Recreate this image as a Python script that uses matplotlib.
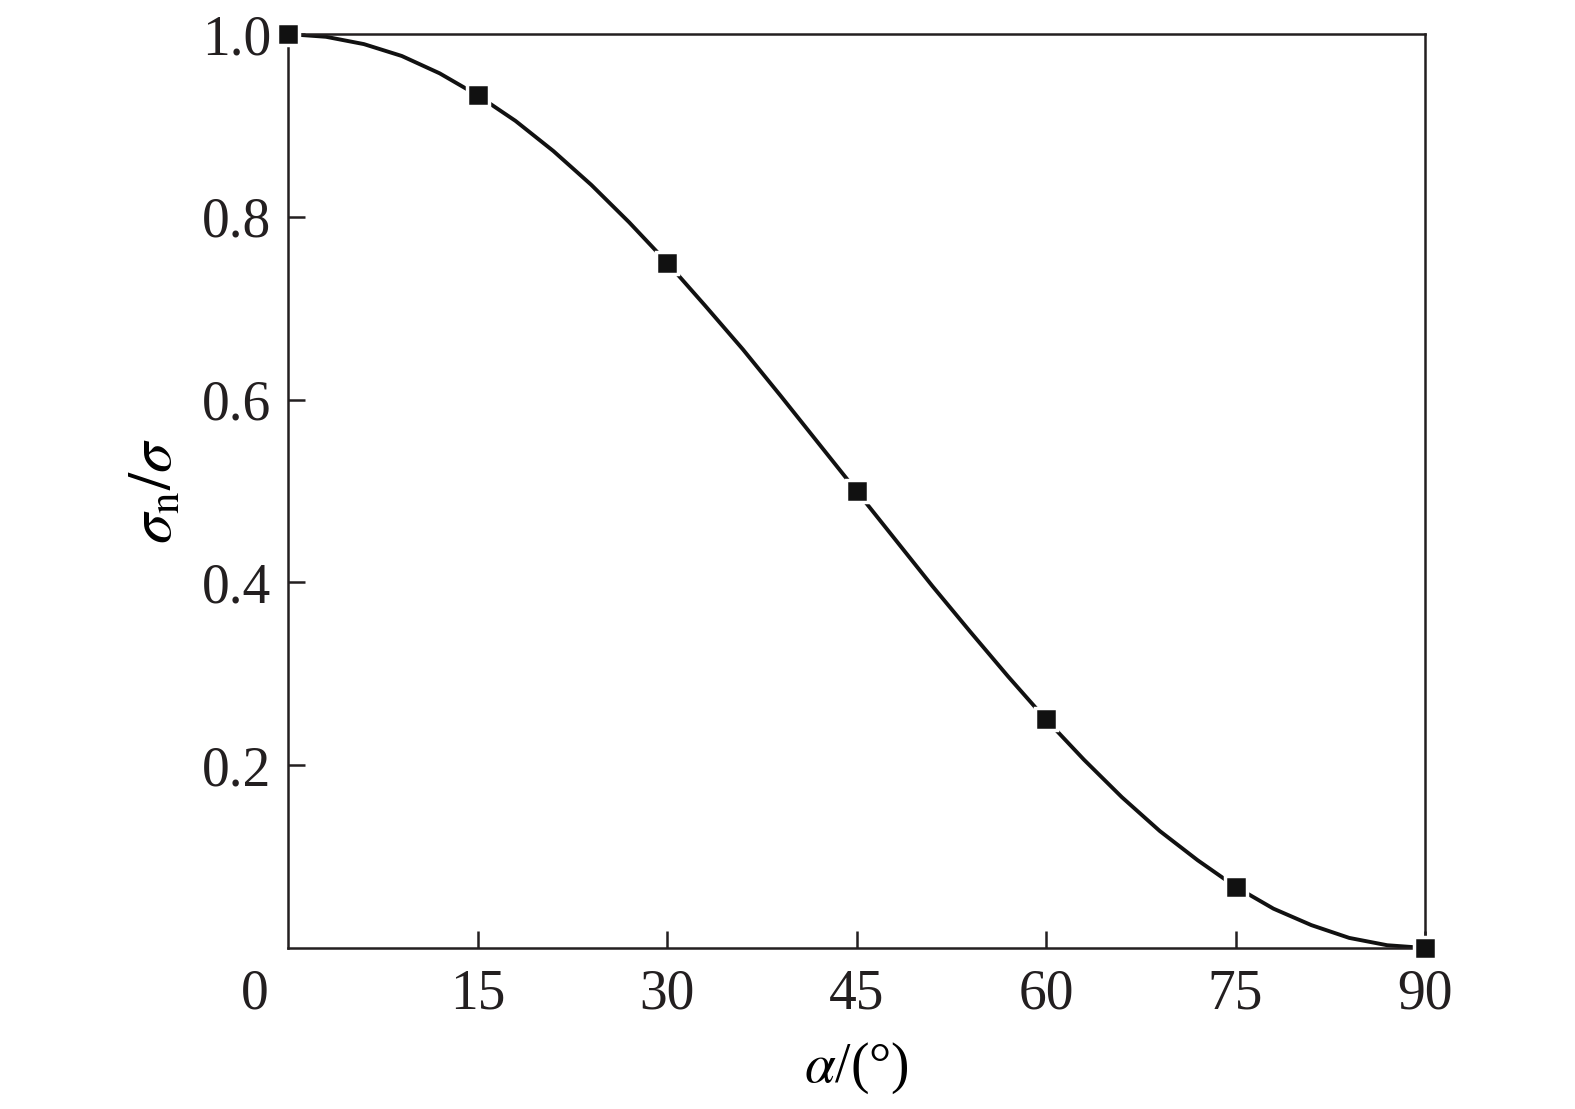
import matplotlib.pyplot as plt

plt.rcParams['font.family'] = 'Liberation Serif'
plt.rcParams['mathtext.fontset'] = 'stix'

# angle (deg) and sigma_n/sigma
alpha_line = [0, 3, 6, 9, 12, 15, 18, 21, 24, 27, 30, 33, 36, 39, 42, 45,
              48, 51, 54, 57, 60, 63, 66, 69, 72, 75, 78, 81, 84, 87, 90]
ratio_line = [1.000, 0.997, 0.989, 0.976, 0.957, 0.933, 0.905, 0.872, 0.835,
              0.794, 0.750, 0.703, 0.655, 0.604, 0.552, 0.500, 0.448, 0.396,
              0.346, 0.297, 0.250, 0.206, 0.165, 0.128, 0.096, 0.067, 0.043,
              0.025, 0.011, 0.003, 0.000]
alpha_pts = [0, 15, 30, 45, 60, 75, 90]
ratio_pts = [1.000, 0.933, 0.750, 0.500, 0.250, 0.067, 0.000]

fig = plt.figure(figsize=(15.75, 11.09), dpi=100)
ax = fig.add_axes([0.1829, 0.1452, 0.7219, 0.8241])

ax.plot(alpha_line, ratio_line, color='#111111', lw=2.8, zorder=2)
ax.plot(alpha_pts, ratio_pts, 's', color='#111111', ms=16, mec='white', mew=2.5,
        mfc='#111111', clip_on=False, zorder=3)

ax.set_xlim(0, 90)
ax.set_ylim(0, 1.0)
ax.set_xticks([15, 30, 45, 60, 75, 90])
ax.set_yticks([0.2, 0.4, 0.6, 0.8, 1.0])
ax.set_yticklabels(['0.2', '0.4', '0.6', '0.8', '1.0'])
ax.tick_params(direction='in', length=12, width=1.8, labelsize=40, pad=12,
               colors='#231f20')
ax.tick_params(axis='x', pad=15)
for s in ax.spines.values():
    s.set_linewidth(1.8)
    s.set_color('#231f20')

ax.annotate('0', xy=(0, 0), xytext=(-24, -15), textcoords='offset points',
            ha='center', va='top', fontsize=40, color='#231f20')

ax.set_xlabel(r'$\alpha$/(°)', fontsize=40, labelpad=14)
ax.set_ylabel(r'$\sigma_{\mathrm{n}}/\sigma$', fontsize=44, labelpad=12)

plt.savefig('out.png', dpi=100)
